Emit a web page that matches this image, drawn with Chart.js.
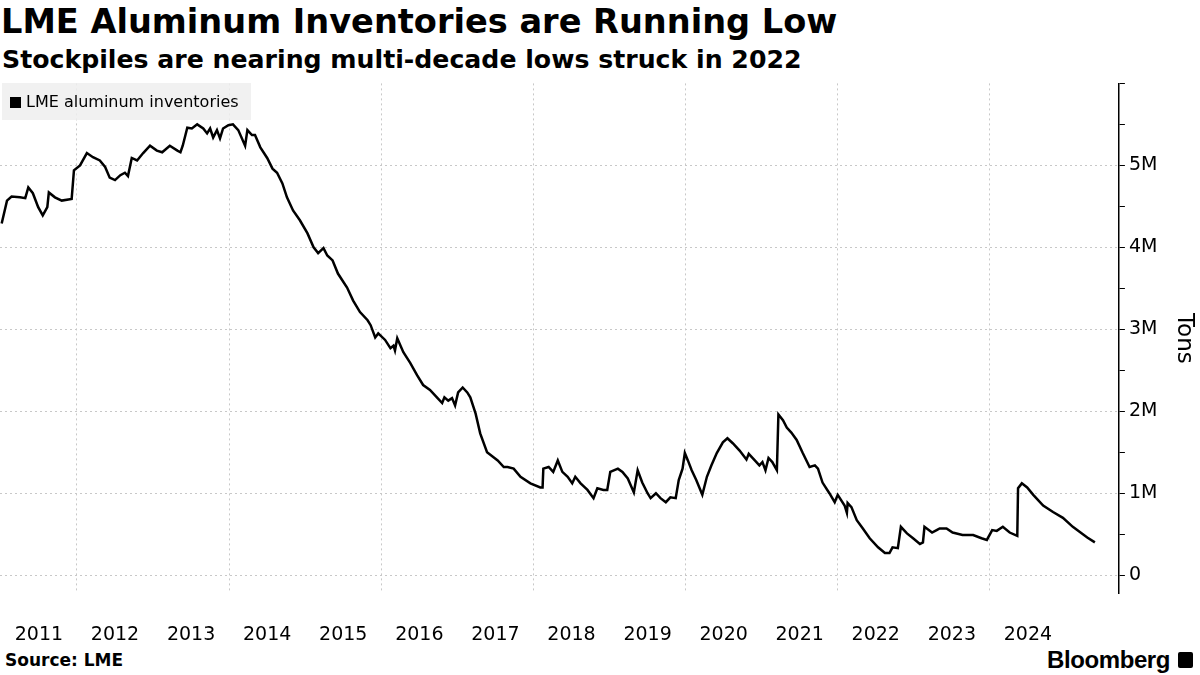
<!DOCTYPE html>
<html>
<head>
<meta charset="utf-8">
<script src="https://cdn.jsdelivr.net/npm/chart.js@4/dist/chart.umd.min.js"></script>
<style>
  body{margin:0;background:#fff;font-family:"DejaVu Sans",sans-serif;}
  #wrap{position:relative;width:1200px;height:675px;overflow:hidden;}
  .title{position:absolute;left:1px;top:2px;font-weight:bold;font-size:33.6px;color:#000;white-space:nowrap;}
  .sub{position:absolute;left:2px;top:45px;font-weight:bold;font-size:25.2px;color:#000;white-space:nowrap;}
  #chartBox{position:absolute;left:0;top:68px;width:1200px;height:578px;}
  .legend{position:absolute;left:2px;top:83px;width:249px;height:37px;box-sizing:border-box;padding-left:8px;background:rgba(238,238,238,0.85);font-size:16px;line-height:37px;color:#000;white-space:nowrap;}
  .legend i{display:inline-block;width:11px;height:11px;background:#000;margin-right:5px;vertical-align:-1px;}
  .source{position:absolute;left:5px;top:650px;font-weight:bold;font-size:17px;}
  .brand{position:absolute;left:1047px;top:646px;font-family:"Liberation Sans",Arial,sans-serif;font-weight:bold;font-size:24px;letter-spacing:-0.4px;}
  .logo{position:absolute;left:1178px;top:652px;width:15px;height:16px;background:#000;border-radius:2px;}
</style>
</head>
<body>
<div id="wrap">
  <div class="title">LME Aluminum Inventories are Running Low</div>
  <div class="sub">Stockpiles are nearing multi-decade lows struck in 2022</div>
  <div id="chartBox"><canvas id="chart"></canvas></div>
  <div class="legend"><i></i>LME aluminum inventories</div>
  <div class="source">Source: LME</div>
  <div class="brand">Bloomberg</div>
  <div class="logo"></div>
</div>
<script>
// decimal years and LME aluminum stocks (million tons)
const dates = [
  2011.01,2011.08,2011.14,2011.25,2011.32,2011.36,2011.42,2011.49,2011.55,2011.61,2011.63,2011.71,2011.80,2011.93,2011.96,
  2012.04,2012.13,2012.21,2012.30,2012.37,2012.43,2012.50,2012.57,2012.63,2012.67,2012.72,2012.79,2012.87,2012.96,
  2013.05,2013.12,2013.22,2013.32,2013.36,2013.39,2013.45,2013.51,2013.58,2013.66,2013.71,2013.75,2013.79,2013.84,2013.88,2013.92,2013.99,
  2014.05,2014.12,2014.21,2014.24,2014.30,2014.34,2014.41,2014.50,2014.57,2014.63,2014.70,2014.76,2014.84,2014.93,
  2015.03,2015.11,2015.17,2015.24,2015.29,2015.36,2015.43,2015.55,2015.63,2015.72,2015.82,2015.86,2015.92,2015.96,
  2016.05,2016.12,2016.16,2016.18,2016.21,2016.29,2016.38,2016.47,2016.55,2016.64,2016.74,2016.80,2016.83,2016.88,2016.93,2016.97,
  2017.01,2017.07,2017.13,2017.17,2017.24,2017.30,2017.39,2017.53,2017.61,2017.66,2017.74,2017.83,2017.96,
  2018.09,2018.12,2018.13,2018.20,2018.26,2018.32,2018.38,2018.45,2018.51,2018.55,2018.62,2018.71,2018.79,2018.84,2018.92,2018.97,
  2019.01,2019.11,2019.17,2019.24,2019.32,2019.37,2019.43,2019.50,2019.54,2019.61,2019.67,2019.74,2019.80,2019.87,2019.91,2019.96,
  2019.99,2020.03,2020.08,2020.14,2020.22,2020.28,2020.34,2020.41,2020.49,2020.55,2020.62,2020.71,2020.80,2020.83,2020.91,2020.97,
  2021.01,2021.05,2021.09,2021.14,2021.20,2021.22,2021.28,2021.33,2021.39,2021.46,2021.54,2021.63,2021.70,2021.74,2021.80,2021.89,2021.96,
  2022.00,2022.09,2022.12,2022.13,2022.18,2022.25,2022.33,2022.42,2022.53,2022.62,2022.68,2022.72,2022.79,2022.83,2022.91,2022.99,
  2023.08,2023.12,2023.14,2023.24,2023.30,2023.34,2023.43,2023.51,2023.64,2023.78,2023.89,2023.96,
  2024.03,2024.09,2024.17,2024.26,2024.36,2024.37,2024.42,2024.49,2024.57,2024.70,2024.83,2024.96,
  2025.09,2025.28,2025.38
];
const inventory = [
  4.29,4.57,4.62,4.61,4.60,4.73,4.66,4.49,4.39,4.49,4.67,4.61,4.57,4.59,4.94,
  5.00,5.15,5.10,5.06,4.98,4.85,4.82,4.88,4.91,4.87,5.09,5.06,5.15,5.24,
  5.18,5.16,5.24,5.18,5.16,5.24,5.46,5.45,5.50,5.45,5.39,5.45,5.34,5.43,5.33,5.45,5.49,
  5.50,5.43,5.24,5.43,5.37,5.37,5.22,5.09,4.96,4.91,4.78,4.61,4.45,4.33,
  4.17,4.00,3.93,3.99,3.90,3.84,3.68,3.51,3.35,3.21,3.11,3.05,2.90,2.95,
  2.87,2.77,2.80,2.74,2.89,2.72,2.59,2.44,2.32,2.26,2.16,2.10,2.17,2.13,2.16,2.07,
  2.23,2.29,2.23,2.17,1.97,1.73,1.50,1.40,1.32,1.32,1.30,1.20,1.12,
  1.07,1.07,1.30,1.32,1.26,1.40,1.26,1.20,1.12,1.20,1.12,1.04,0.94,1.06,1.04,1.04,
  1.26,1.30,1.26,1.18,1.01,1.28,1.13,1.00,0.94,1.00,0.94,0.89,0.95,0.94,1.16,1.30,
  1.49,1.40,1.28,1.16,0.98,1.20,1.34,1.49,1.62,1.67,1.61,1.52,1.41,1.48,1.40,1.34,
  1.38,1.28,1.43,1.38,1.28,1.96,1.89,1.80,1.74,1.65,1.49,1.32,1.34,1.30,1.13,1.00,0.89,
  0.98,0.85,0.76,0.88,0.83,0.67,0.57,0.45,0.34,0.27,0.27,0.34,0.33,0.59,0.51,0.45,
  0.38,0.40,0.59,0.52,0.55,0.57,0.57,0.52,0.49,0.49,0.45,0.43,
  0.55,0.54,0.59,0.52,0.48,1.06,1.12,1.07,0.98,0.85,0.77,0.70,
  0.59,0.46,0.40
];
const yearLabels = [2011,2012,2013,2014,2015,2016,2017,2018,2019,2020,2021,2022,2023,2024];
const gridYears = [2012,2014,2016,2018,2020,2022,2024];
const yTicks = [0,0.5,1,1.5,2,2.5,3,3.5,4,4.5,5,5.5,6];

const points = dates.map((d,i)=>({x:d, y:inventory[i]}));
const isGridYear = (v)=> gridYears.includes(v);

new Chart(document.getElementById('chart'), {
  type:'line',
  data:{datasets:[{label:'LME aluminum inventories', data:points, borderColor:'#000', borderWidth:2.5, pointRadius:0, tension:0}]},
  options:{
    responsive:true, maintainAspectRatio:false, animation:false,
    layout:{padding:{top:0,left:0,right:0,bottom:0}},
    plugins:{legend:{display:false}, tooltip:{enabled:false}},
    scales:{
      x:{
        type:'linear', min:2010.988, max:2025.696,
        afterBuildTicks:(s)=>{
          const t = gridYears.map(v=>({value:v})).concat(yearLabels.map(v=>({value:v+0.5})));
          t.sort((a,b)=>a.value-b.value);
          s.ticks = t;
        },
        grid:{
          color:(c)=> (c.tick && isGridYear(c.tick.value)) ? '#c8c8c8' : 'transparent',
          tickColor:'transparent', tickLength:30
        },
        border:{display:false, dash:[2,3]},
        ticks:{
          autoSkip:false, maxRotation:0, padding:0, color:'#000',
          font:{family:'DejaVu Sans', size:19},
          callback:(v)=> yearLabels.includes(v-0.5) ? String(v-0.5) : ''
        }
      },
      y:{
        position:'right', min:-0.22, max:6,
        afterBuildTicks:(s)=>{ s.ticks = yTicks.map(v=>({value:v})); },
        grid:{
          color:(c)=> (c.tick && Number.isInteger(c.tick.value) && c.tick.value<6) ? '#c8c8c8' : 'transparent',
          tickColor:'#000', tickLength:6
        },
        border:{display:true, color:'#000', width:1.5, dash:[2,3]},
        ticks:{
          autoSkip:false, padding:4, color:'#000',
          font:{family:'DejaVu Sans', size:19},
          callback:(v)=> (Number.isInteger(v) && v<6) ? (v===0 ? '0' : v+'M') : ''
        },
        title:{display:true, text:'Tons', color:'#000', font:{family:'DejaVu Sans', size:23}, padding:{top:2,bottom:9}}
      }
    }
  }
});
</script>
</body>
</html>
